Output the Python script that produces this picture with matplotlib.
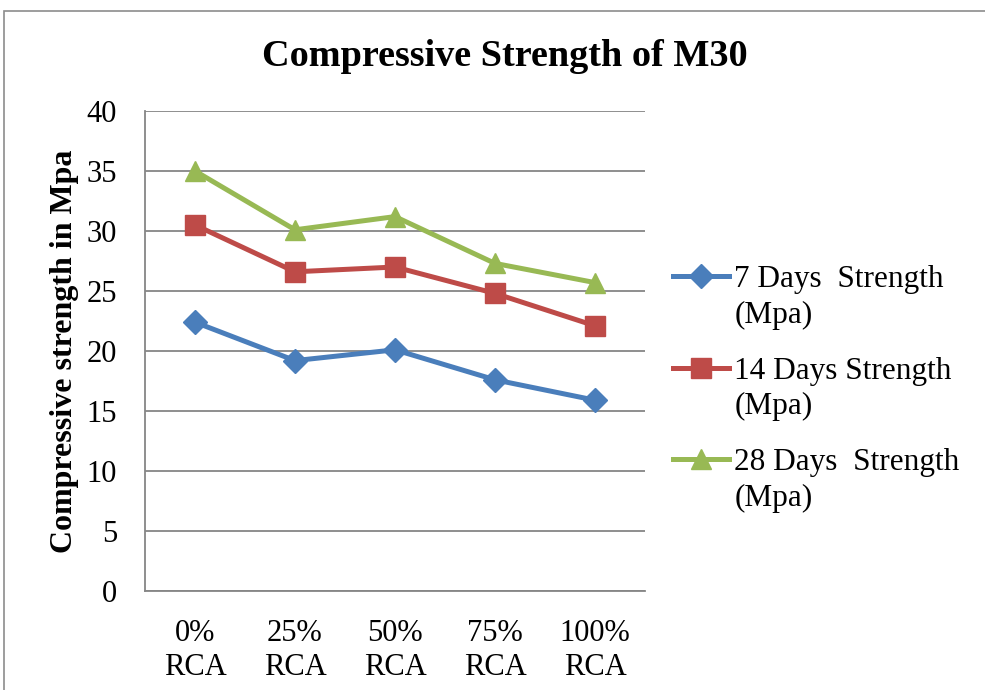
import matplotlib
matplotlib.use("Agg")
from matplotlib import pyplot as plt
from matplotlib.patches import Rectangle
import numpy as np

# data
categories = ["0%\nRCA", "25%\nRCA", "50%\nRCA", "75%\nRCA", "100%\nRCA"]
days7 = [22.4, 19.2, 20.1, 17.6, 15.9]
days14 = [30.5, 26.6, 27.0, 24.8, 22.1]
days28 = [35.0, 30.1, 31.2, 27.3, 25.7]
labels = ["7 Days  Strength\n(Mpa)", "14 Days Strength\n(Mpa)", "28 Days  Strength\n(Mpa)"]

plt.rcParams["font.family"] = ["Liberation Serif", "DejaVu Serif"]

fig = plt.figure(figsize=(9.85, 6.9), dpi=100)
ax = fig.add_axes([145/985, 1-591/690, 500/985, 480/690])

# outer chart frame
fig.patches.append(Rectangle((4/985, -0.1), 1.1, 1-11/690+0.1, transform=fig.transFigure,
                             fill=False, edgecolor="#8c8c8c", linewidth=1.2))

x = np.arange(len(categories))
ax.plot(x, days7, color="#4A7EBB", marker="D", markersize=12, linewidth=3.6, label=labels[0])
ax.plot(x, days14, color="#BE4B48", marker="s", markersize=14, linewidth=3.6, label=labels[1])
ax.plot(x, days28, color="#98B954", marker="^", markersize=15, linewidth=3.6, label=labels[2])

ax.set_xlim(-0.5, 4.5)
ax.set_ylim(0, 40)
ax.set_yticks(range(0, 41, 5))
ax.set_xticks(x)
ax.set_xticklabels(categories, fontsize=22, linespacing=1.25)
ax.tick_params(axis="x", length=0, pad=20)
ax.tick_params(axis="y", labelsize=22, length=0, pad=20)

ax.grid(axis="y", color="#868686", linewidth=1.3)
ax.set_axisbelow(True)
for s in ["top", "right"]:
    ax.spines[s].set_visible(False)
for s in ["left", "bottom"]:
    ax.spines[s].set_color("#868686")
    ax.spines[s].set_linewidth(1.3)

ax.set_ylabel("Compressive strength in Mpa", fontsize=23, fontweight="bold")
ax.yaxis.set_label_coords(-0.132, 0.5)
fig.text(505/985, 1-57/690, "Compressive Strength of M30", fontsize=27.5, fontweight="bold",
         ha="center", va="center")

leg = ax.legend(loc="center left", bbox_to_anchor=(673/985, 1-389/690), bbox_transform=fig.transFigure,
                frameon=False, fontsize=22.5, handlelength=1.8, handletextpad=0.16,
                labelspacing=0.85, borderpad=0, borderaxespad=0)
for t in leg.get_texts():
    t.set_linespacing(1.3)
# put each marker next to the first line of its label, like Excel does
for col in leg._legend_handle_box.get_children():
    for row in col.get_children():
        row.align = "top"

fig.savefig("out.png", dpi=100)
